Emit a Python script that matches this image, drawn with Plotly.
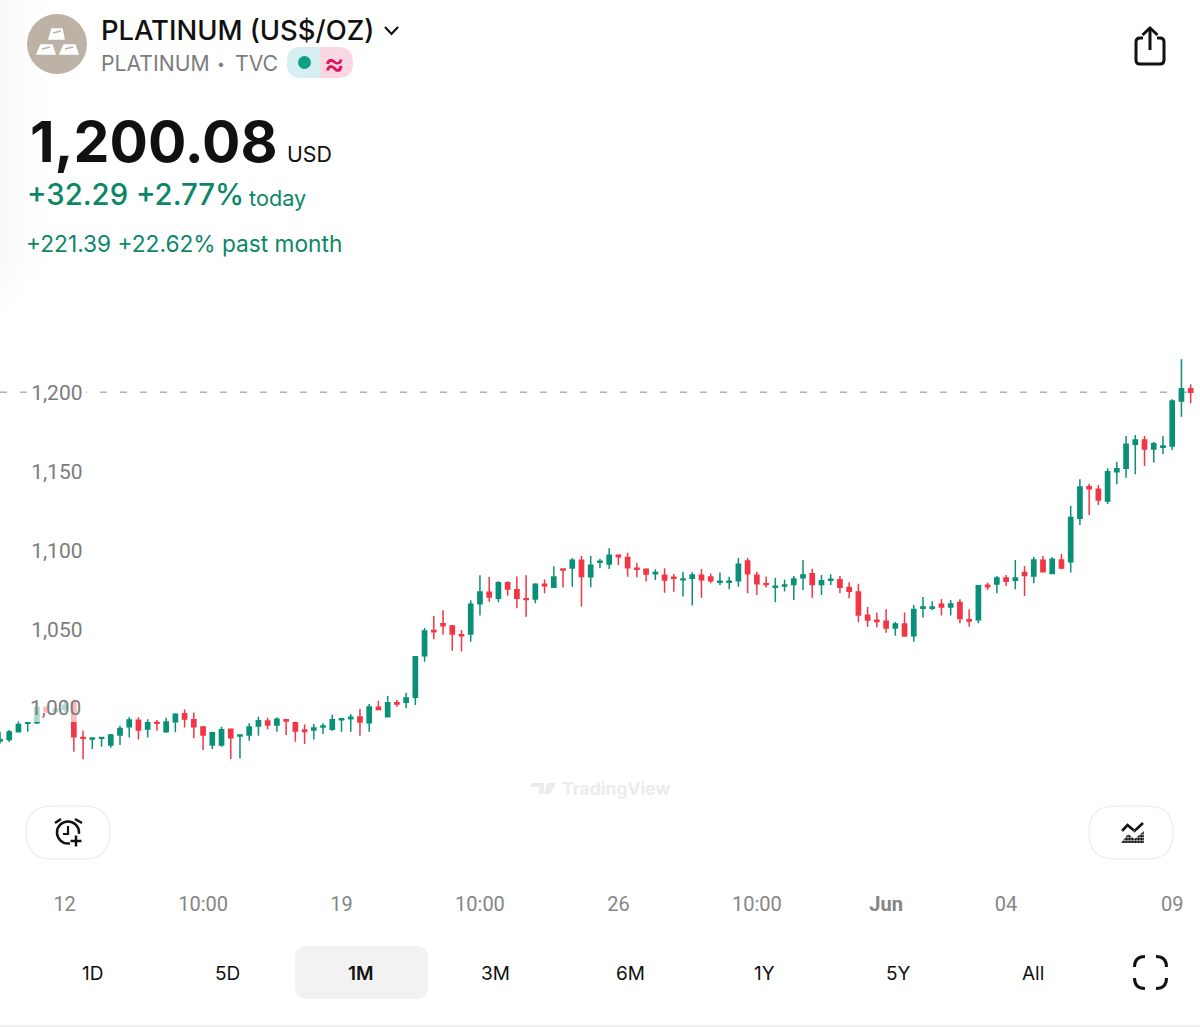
import plotly.graph_objects as go

W, H = 1200, 1027

opens = [979.4, 980.4, 985.3, 990.6, 991.0, 1000.7, 998, 999.5, 1004.3, 981.7,
         980.7, 981.1, 976.9, 983.2, 988.5, 992.5, 987, 991.2, 985.3, 991.6,
         996.7, 992.9, 988.3, 976.9, 976.9, 986.8, 982.6, 983.2, 988.9, 992.1,
         989.5, 992.9, 991, 986.4, 986.4, 988.3, 986.8, 992.9, 993.5, 994.6,
         991, 1000.7, 994.8, 1003.7, 1003.9, 1007.1, 1033.4, 1049.3, 1053.7, 1052.2,
         1046.7, 1047.2, 1066.3, 1073.5, 1069.7, 1079.6, 1075.2, 1069.5, 1069.3, 1078.6,
         1076.7, 1088.3, 1088.9, 1093.8, 1083.4, 1092.5, 1091.5, 1097, 1095.5, 1088.7,
         1088.1, 1085.3, 1084.3, 1083, 1081.5, 1082.4, 1084.3, 1083.2, 1079.9, 1079.9,
         1080.9, 1093.4, 1084.3, 1079, 1076.7, 1077.5, 1078.4, 1082.8, 1085.3, 1078.4,
         1081.1, 1081.5, 1076.5, 1073.7, 1059, 1055.8, 1055.2, 1051, 1053.5, 1046.1,
         1063.4, 1063.4, 1065.9, 1064.2, 1067, 1056.2, 1056.2, 1078, 1078.8, 1082.6,
         1081.1, 1086, 1083.9, 1093.8, 1085.5, 1094, 1092.9, 1120.4, 1140.4, 1138.7,
         1131.3, 1149.9, 1152, 1167.2, 1169.9, 1164.2, 1165.3, 1166.1, 1194.6, 1202.4]
highs = [985.3, 986.4, 991.8, 991.2, 1001.1, 1001.3, 1001, 1005, 1004.9, 985.9,
         981.7, 982.1, 983.8, 989.1, 994.4, 994.4, 993.1, 992.7, 994.2, 996.9,
         999.4, 997.5, 988.9, 985.3, 988.5, 987.2, 983.2, 990.6, 994.8, 994.2,
         994.4, 993.1, 991.6, 989.9, 990.2, 990.6, 996.1, 994.2, 996.5, 999.6,
         1002.8, 1004.9, 1007.9, 1005.3, 1010, 1033, 1051, 1058.5, 1062.1, 1052.9,
         1049.7, 1068.5, 1084.3, 1083.2, 1080.5, 1080.5, 1083.6, 1084.3, 1079.2, 1081.7,
         1090, 1088.7, 1095.3, 1096.5, 1096.5, 1094.8, 1101.4, 1097.6, 1098.6, 1092.3,
         1088.7, 1088.1, 1088.7, 1085.1, 1086.6, 1086.2, 1088.3, 1085.5, 1086, 1083.4,
         1095.3, 1095.3, 1086.6, 1083.6, 1082.8, 1081.7, 1083.9, 1094, 1088.5, 1084.5,
         1084.9, 1083.9, 1079.9, 1079, 1064.2, 1060.7, 1062.8, 1054.7, 1060.7, 1065.5,
         1070.6, 1067.8, 1069.3, 1068.7, 1069.1, 1062.8, 1077.9, 1079.6, 1083.9, 1084.5,
         1094, 1090.2, 1096.1, 1096.5, 1095.7, 1098, 1128.2, 1145, 1142.3, 1141.5,
         1152, 1156.2, 1172.5, 1173.1, 1172.5, 1168.7, 1172.5, 1195.7, 1221, 1205.2]
lows = [977.9, 978.8, 985.3, 985.3, 990.2, 997, 996.5, 998, 972.6, 967.8,
        974.3, 975.8, 975.2, 976.9, 981.7, 980.4, 981.7, 985.9, 984.7, 984.9,
        988, 981.1, 973.7, 974.3, 975.8, 968, 968.4, 979.6, 982.8, 986.8,
        985.3, 983.2, 979, 977.5, 980.4, 983.8, 985.9, 985.3, 985.3, 982.8,
        985.3, 999, 994.8, 1001.1, 1000.1, 1002.2, 1029.6, 1043.8, 1046.7, 1036.6,
        1036, 1042.3, 1058.8, 1067.6, 1067.2, 1071.4, 1063.4, 1058.1, 1066.6, 1072.9,
        1076.5, 1076.5, 1077.1, 1064.5, 1076.7, 1088.7, 1088.3, 1090.8, 1083.4, 1083,
        1080.3, 1081.3, 1073.3, 1073.9, 1070.8, 1065.1, 1070.1, 1079.2, 1078.2, 1075.4,
        1077.1, 1072.9, 1071.8, 1076.5, 1067.2, 1074, 1068.7, 1075, 1070.1, 1071.8,
        1078.2, 1072.9, 1069.7, 1054.5, 1051.8, 1051.4, 1048, 1046.1, 1045.5, 1042.3,
        1057.5, 1062.3, 1058.8, 1058.8, 1053.9, 1051.8, 1053.9, 1075, 1072.9, 1077.5,
        1075.4, 1071.2, 1079.2, 1086.4, 1085.5, 1088.1, 1086, 1116.1, 1122.5, 1128.8,
        1129.4, 1141.9, 1146.1, 1148.2, 1153.5, 1155.6, 1161.1, 1163.6, 1184.7, 1193.1]
closes = [980.4, 985.1, 989.9, 991.0, 1000.7, 998, 999.5, 1002, 982.1, 981.1,
          981.3, 981.7, 983.2, 987.4, 992.7, 986.4, 991, 990.6, 991.4, 996.3,
          993.3, 988.5, 983.2, 984.7, 986.6, 981.5, 983.2, 988.3, 992.3, 989.5,
          993.1, 992.1, 985.7, 985.5, 987.6, 988.9, 992.9, 993.5, 994.4, 991.4,
          1000.9, 999.4, 1003.7, 1002.8, 1006.7, 1032.8, 1049, 1048.6, 1052.4, 1047.2,
          1046.1, 1065.9, 1073.7, 1070.6, 1079.6, 1075.6, 1069.7, 1068.9, 1078.6, 1077.7,
          1083.2, 1087.7, 1093.8, 1083.6, 1090.6, 1093.1, 1097, 1096.1, 1089.1, 1088.1,
          1085.1, 1086, 1081.3, 1082.4, 1082, 1084.5, 1081.5, 1080.9, 1080.5, 1080.5,
          1091.3, 1085.3, 1079, 1078.4, 1077.3, 1078.2, 1082, 1084.5, 1078.4, 1080.9,
          1081.8, 1076.7, 1074.2, 1059.2, 1056, 1055, 1051, 1053.5, 1045.9, 1062.6,
          1064.2, 1064.2, 1064.2, 1066.1, 1056.9, 1055.4, 1077.7, 1077.1, 1082.6, 1080.5,
          1082.6, 1084.1, 1094, 1086.6, 1094.4, 1088.9, 1120.8, 1140.2, 1139.1, 1132,
          1149.9, 1151.8, 1167.2, 1169.9, 1164.2, 1167.6, 1166.1, 1194.6, 1202.4, 1200.1]

bars = list(range(len(opens)))

# bar index of each date label, and the text under it
x_tick_bars = [7, 22, 37, 52, 67, 82, 96, 109, 127]
x_tick_text = ["12", "10:00", "19", "10:00", "26", "10:00", "<b>Jun</b>", "04", "09"]
y_ticks = [1050, 1100, 1150, 1200]

range_tabs = ["1D", "5D", "1M", "3M", "6M", "1Y", "5Y", "All"]
range_tab_centres = [92.5, 227, 361, 495.5, 630.5, 764, 898, 1033]

GREEN = "#0A9078"
RED = "#F23645"
TEXT_GREEN = "#0B8768"
GREY = "#7c7c7c"
FONT = "Inter, Roboto, sans-serif"
AXIS_FONT = "Roboto, Inter, sans-serif"


# everything outside the plot is placed in screen pixels
def px(x):
    return x / W


def py(y):
    return 1 - y / H


def pt(x, y):
    return f"{px(x):.5f},{py(y):.5f}"


def line_path(*pts, close=False):
    cmds = [f"{'M' if i == 0 else 'L'}{pt(x, y)}" for i, (x, y) in enumerate(pts)]
    return " ".join(cmds) + (" Z" if close else "")


def round_rect(x0, y0, x1, y1, r):
    return (f"M{pt(x0 + r, y0)} L{pt(x1 - r, y0)} Q{pt(x1, y0)} {pt(x1, y0 + r)} "
            f"L{pt(x1, y1 - r)} Q{pt(x1, y1)} {pt(x1 - r, y1)} L{pt(x0 + r, y1)} "
            f"Q{pt(x0, y1)} {pt(x0, y1 - r)} L{pt(x0, y0 + r)} Q{pt(x0, y0)} {pt(x0 + r, y0)} Z")


def corner(x0, y0, cx, cy, x1, y1):
    return f"M{pt(x0, y0)} Q{pt(cx, cy)} {pt(x1, y1)}"


def path(d, color=None, fill=None, width=0, layer="above", opacity=1):
    return dict(type="path", path=d, xref="paper", yref="paper", layer=layer, opacity=opacity,
                fillcolor=fill or "rgba(0,0,0,0)", line=dict(color=color or "rgba(0,0,0,0)", width=width))


def circle(cx, cy, r, fill=None, color=None, width=0, layer="above"):
    return dict(type="circle", xref="paper", yref="paper", layer=layer,
                x0=px(cx - r), x1=px(cx + r), y0=py(cy + r), y1=py(cy - r),
                fillcolor=fill or "rgba(0,0,0,0)", line=dict(color=color or "rgba(0,0,0,0)", width=width))


def note(text, x, y, size, color, anchor="left", weight=400, family=FONT):
    return dict(text=text, x=px(x), y=py(y), xref="paper", yref="paper", showarrow=False,
                xanchor=anchor, yanchor="middle", borderpad=0,
                font=dict(family=family, size=size, color=color, weight=weight))


fig = go.Figure(go.Candlestick(
    x=bars, open=opens, high=highs, low=lows, close=closes,
    increasing=dict(line=dict(color=GREEN, width=1.5), fillcolor=GREEN),
    decreasing=dict(line=dict(color=RED, width=1.5), fillcolor=RED),
    whiskerwidth=0, showlegend=False
))

shapes = []

# faint grey wash down the top left edge of the screenshot
for reach in (8, 16, 26, 38, 52):
    shapes.append(dict(type="rect", xref="paper", yref="paper", x0=0, x1=px(reach), y0=py(320 - reach), y1=1,
                       layer="below", fillcolor="rgba(0,0,0,0.003)", line=dict(width=0)))

shapes += [
    # last price line, cut behind the 1,200 label
    dict(type="line", xref="paper", yref="y", x0=0, x1=1, y0=closes[-1], y1=closes[-1], layer="below",
         line=dict(color="#b4b4b4", width=1.5, dash="7px,13px")),
    dict(type="rect", xref="paper", yref="paper", x0=px(28), x1=px(86), y0=py(402), y1=py(384), layer="below",
         fillcolor="white", line=dict(width=0)),
    # the 1,000 label fades the candles under it
    dict(type="rect", xref="paper", yref="paper", x0=px(30), x1=px(83), y0=py(722), y1=py(696), layer="above",
         fillcolor="rgba(255,255,255,0.66)", line=dict(width=0)),

    # header icon
    circle(57, 44, 30, fill="#BDB2A6"),
    path(line_path((49, 39), (52, 29), (62, 29), (64, 39), close=True), fill="white", color="white", width=1.5),
    path(line_path((37, 54), (41, 45), (52, 45), (55, 54), close=True), fill="white", color="white", width=1.5),
    path(line_path((60, 54), (64, 45), (75, 45), (78, 54), close=True), fill="white", color="white", width=1.5),
    path(line_path((53, 33), (61, 31)), color="#BDB2A6", width=1.5),
    path(line_path((42, 49), (50, 47)), color="#BDB2A6", width=1.5),
    path(line_path((65, 49), (73, 47)), color="#BDB2A6", width=1.5),
    path(line_path((385, 27), (391.5, 34), (398, 27)), color="#111111", width=2.2),

    # status pill
    path(round_rect(287, 47, 353, 78, 15), fill="#FBD7E3"),
    path(f"M{pt(320, 47)} L{pt(302, 47)} Q{pt(287, 47)} {pt(287, 62.5)} "
         f"Q{pt(287, 78)} {pt(302, 78)} L{pt(320, 78)} Z", fill="#D5EFF2"),
    circle(304.5, 62.5, 6.5, fill="#0E9F85"),

    # share icon
    path(f"M{pt(1143, 38)} L{pt(1140, 38)} Q{pt(1136, 38)} {pt(1136, 42)} L{pt(1136, 60)} Q{pt(1136, 64)} {pt(1140, 64)} "
         f"L{pt(1160, 64)} Q{pt(1164, 64)} {pt(1164, 60)} L{pt(1164, 42)} Q{pt(1164, 38)} {pt(1160, 38)} L{pt(1157, 38)}",
         color="#111111", width=3),
    path(line_path((1150, 50), (1150, 28)), color="#111111", width=3),
    path(line_path((1142.5, 35), (1150, 28), (1157.5, 35)), color="#111111", width=3),

    # alarm button
    path(round_rect(26, 806, 110, 859, 26), fill="white", color="#f0f0f0", width=1.5),
    circle(68, 832.5, 11, color="#111111", width=2.5),
    circle(77, 841, 7.5, fill="white"),
    path(line_path((68, 826), (68, 834), (63, 834)), color="#111111", width=2.2),
    path(line_path((55, 823), (61, 819)), color="#111111", width=2.5),
    path(line_path((75, 819), (82, 823)), color="#111111", width=2.5),
    path(line_path((76, 835.5), (76, 846.5)), color="#111111", width=2.5),
    path(line_path((70.5, 841), (81.5, 841)), color="#111111", width=2.5),

    # indicator button
    path(round_rect(1089, 806, 1173, 859, 26), fill="white", color="#f0f0f0", width=1.5),
    path(line_path((1122, 831), (1127.5, 825), (1134.5, 831), (1143, 823)), color="#111111", width=2.6),
    path(line_path((1121, 843), (1128, 834), (1134.5, 839), (1144, 831), (1144, 843), close=True), fill="#111111"),
]

# dotted look of the indicator icon's area
for hatch_y in (834.5, 837.5, 840.5):
    shapes.append(path(line_path((1120, hatch_y), (1145, hatch_y)), color="white", width=0.5))
for hatch_x in range(1122, 1145, 3):
    shapes.append(path(line_path((hatch_x, 830), (hatch_x, 844)), color="white", width=0.5))

shapes += [
    # selected range and bottom edge
    path(round_rect(295, 946, 428, 999, 12), fill="#F2F2F2", layer="below"),
    dict(type="line", xref="paper", yref="paper", x0=0, x1=1, y0=py(1026), y1=py(1026), layer="below",
         line=dict(color="#ececec", width=1.5)),

    # fullscreen corners
    path(corner(1134.5, 967, 1134.5, 956.5, 1145, 956.5), color="#111111", width=3),
    path(corner(1156, 956.5, 1166.5, 956.5, 1166.5, 967), color="#111111", width=3),
    path(corner(1134.5, 978, 1134.5, 988.5, 1145, 988.5), color="#111111", width=3),
    path(corner(1156, 988.5, 1166.5, 988.5, 1166.5, 978), color="#111111", width=3),

    # watermark logo
    path(line_path((531, 783), (544, 783), (544, 794), (539, 794), (539, 787), (531, 787), close=True), fill="#ececec"),
    path(line_path((547, 783), (556, 783), (550, 794), (544, 794), close=True), fill="#ececec"),
]

annotations = [
    note("PLATINUM (US$/OZ)", 99.5, 30, 27.4, "#111111", weight=500),
    note("PLATINUM", 99.5, 62.5, 21.2, GREY),
    note("•", 216, 63, 14, GREY),
    note("TVC", 234, 62.5, 21.2, GREY),
    note("≈", 334, 62, 31, "#E0115F", anchor="center", weight=500),
    note("1,200.08", 29, 142, 57, "#111111", weight=700),
    note("USD", 285.5, 154, 21.3, "#111111"),
    note("+32.29 +2.77%", 25.5, 194, 29.3, TEXT_GREEN, weight=500),
    note("today", 248, 198.5, 21.7, TEXT_GREEN),
    note("+221.39 +22.62% past month", 25, 244, 22.7, TEXT_GREEN),
    note("TradingView", 561, 788.5, 17.5, "#ececec", weight=700),
    note("1,000", 82, 708, 21, GREY, anchor="right", family=AXIS_FONT),
]
for tab, centre in zip(range_tabs, range_tab_centres):
    annotations.append(note(tab, centre, 973, 19, "#111111", anchor="center", weight=600 if tab == "1M" else 400))

fig.update_layout(
    width=W, height=H, margin=dict(l=0, r=0, t=0, b=0),
    paper_bgcolor="white", plot_bgcolor="rgba(0,0,0,0)",
    font=dict(family=FONT, color=GREY),
    boxgap=0.35, showlegend=False,
    shapes=shapes, annotations=annotations,
    xaxis=dict(range=[0, 130.01], domain=[0, 1], anchor="free", position=py(890),
               rangeslider=dict(visible=False), showgrid=False, zeroline=False, showline=False,
               tickmode="array", tickvals=x_tick_bars, ticktext=x_tick_text, ticks="",
               tickfont=dict(size=20, color="#858585", family=AXIS_FONT)),
    yaxis=dict(range=[798.4, 1448.4], domain=[0, 1], anchor="free", position=px(82.5),
               showgrid=False, zeroline=False, showline=False,
               tickmode="array", tickvals=y_ticks, tickformat=",d", ticks="",
               tickfont=dict(size=21, color=GREY, family=AXIS_FONT)),
)

fig.write_html("out.html", config=dict(displayModeBar=False),
               post_script="document.body.style.margin='0';")
